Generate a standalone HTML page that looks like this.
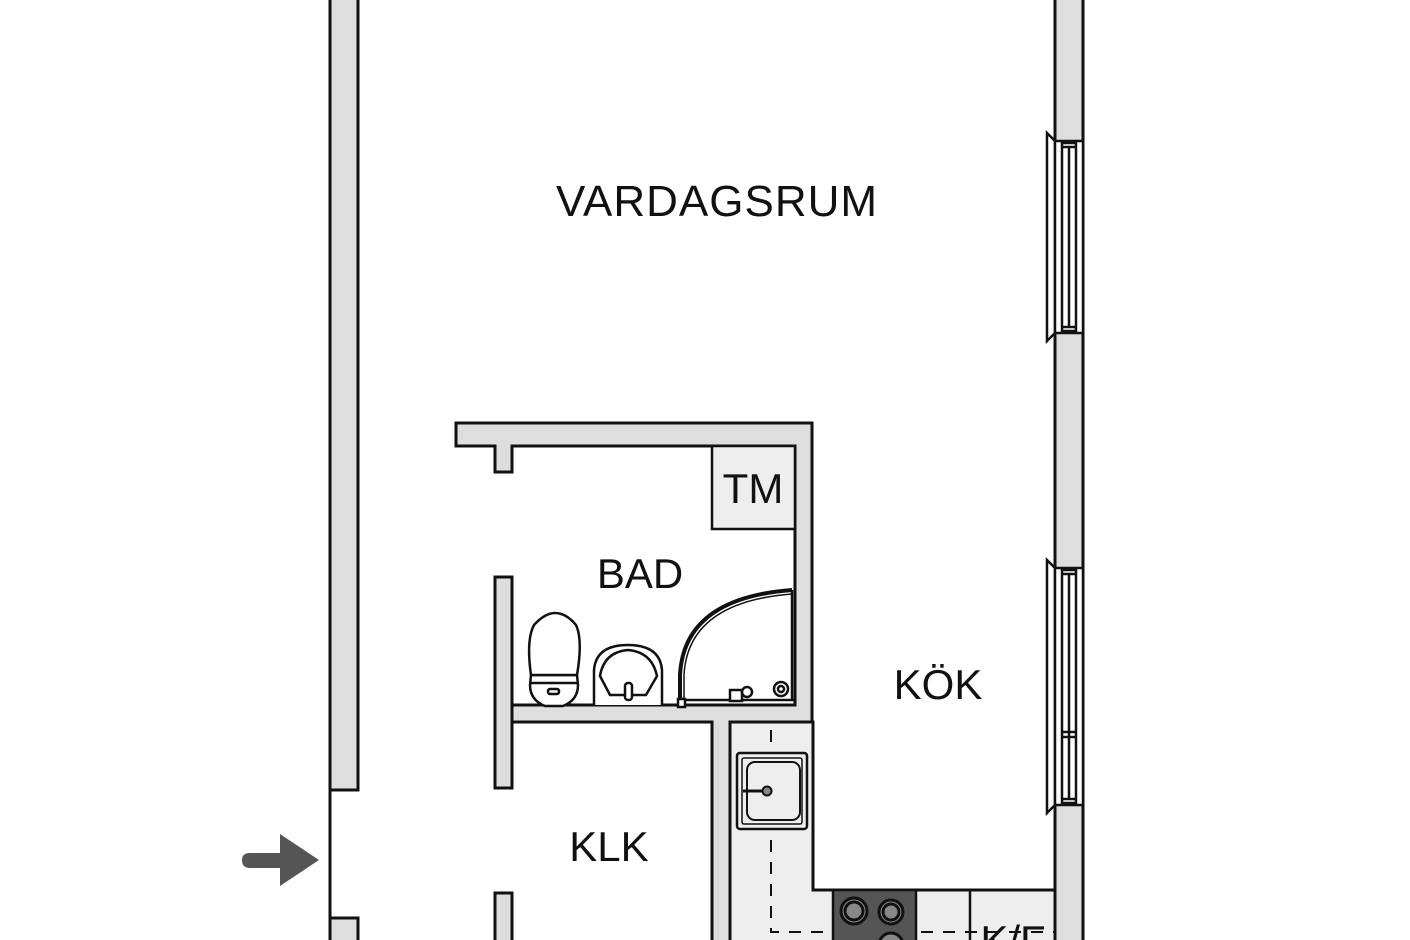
<!DOCTYPE html>
<html><head><meta charset="utf-8"><style>
html,body{margin:0;padding:0;background:#fff;width:1410px;height:940px;overflow:hidden}
svg{display:block}
text{font-family:"Liberation Sans",sans-serif;fill:#111}
</style></head><body>
<svg width="1410" height="940" viewBox="0 0 1410 940" xmlns="http://www.w3.org/2000/svg">
<g stroke="#111" stroke-width="3" fill="#dedede">
<!-- left outer wall -->
<rect x="330" y="-5" width="28" height="795"/>
<rect x="330" y="918" width="28" height="30"/>
<!-- right outer wall -->
<rect x="1055" y="-5" width="28" height="950"/>
</g>
<line x1="330" y1="790" x2="330" y2="940" stroke="#111" stroke-width="3"/>
<!-- windows -->
<g stroke="#111" stroke-width="2.5" fill="#fff">
<path d="M1055 141 L1047 133 L1047 341 L1055 333 Z"/>
<rect x="1055" y="141" width="28" height="192"/>
<rect x="1062" y="143" width="14" height="188" fill="#fff"/>
<line x1="1069" y1="147" x2="1069" y2="327"/>
<line x1="1062" y1="147" x2="1076" y2="147"/>
<line x1="1062" y1="327" x2="1076" y2="327"/>
<path d="M1055 568 L1047 560 L1047 813 L1055 805 Z"/>
<rect x="1055" y="568" width="28" height="237"/>
<rect x="1062" y="570" width="14" height="233" fill="#fff"/>
<line x1="1069" y1="574" x2="1069" y2="799"/>
<line x1="1062" y1="574" x2="1076" y2="574"/>
<line x1="1062" y1="799" x2="1076" y2="799"/>
<line x1="1062" y1="732" x2="1076" y2="732"/>
<line x1="1062" y1="737" x2="1076" y2="737"/>
</g>
<!-- kitchen counter -->
<path d="M730 722 L813 722 L813 890 L1055 890 L1055 945 L730 945 Z" fill="#eeeeee" stroke="#111" stroke-width="3"/>
<line x1="970" y1="890" x2="970" y2="940" stroke="#111" stroke-width="2.5"/>
<path d="M771 730 L771 932 L1055 932" fill="none" stroke="#111" stroke-width="2" stroke-dasharray="12,10"/>
<rect x="833" y="890" width="83" height="55" fill="#555" stroke="#111" stroke-width="2.5"/>
<g stroke="#111" stroke-width="3" fill="#888">
<circle cx="854" cy="911" r="13"/><circle cx="854" cy="911" r="9" fill="#888"/>
<circle cx="891" cy="912" r="12"/><circle cx="891" cy="912" r="8"/>
<circle cx="891" cy="945" r="12"/>
</g>
<!-- kitchen sink -->
<rect x="737" y="753" width="70" height="76" rx="3" fill="#eee" stroke="#111" stroke-width="2.5"/>
<rect x="742" y="758" width="60" height="66" rx="2" fill="#eee" stroke="#111" stroke-width="1.5"/>
<rect x="747" y="762" width="53" height="58" rx="8" fill="#eee" stroke="#111" stroke-width="2"/>
<line x1="743" y1="791" x2="766" y2="791" stroke="#111" stroke-width="3"/>
<circle cx="767" cy="791" r="4.5" fill="#888" stroke="#111" stroke-width="2"/>
<!-- interior walls -->
<g stroke="#111" stroke-width="3" fill="#dedede">
<path d="M456 423 L812 423 L812 722 L730 722 L730 945 L712 945 L712 722 L512 722 L512 705 L795 705 L795 446 L512 446 L512 472 L495 472 L495 446 L456 446 Z"/>
<rect x="495" y="577" width="17" height="211"/>
<rect x="495" y="893" width="17" height="50"/>
</g>
<rect x="712" y="446" width="83" height="83" fill="#eeeeee" stroke="#111" stroke-width="2.5"/>
<!-- toilet -->
<g stroke="#111" stroke-width="2.5" fill="#fff">
<path d="M545 706 Q530 700 530 685 L531 675 L577 675 L578 685 Q578 700 563 706 Z"/>
<path d="M531 675 Q526 640 534 625 Q545 613 555 613 Q566 613 576 625 Q583 640 577 675 Z"/>
<line x1="531" y1="683" x2="577" y2="683"/>
<rect x="548" y="689" width="11" height="5" rx="2"/>
<!-- washbasin -->
<path d="M594 705 L594 670 Q596 645 628 645 Q660 645 662 670 L662 705"/>
<path d="M600 676 Q604 652 628 650 Q652 652 657 676 L646 695 L610 695 Z"/>
<rect x="625" y="683" width="7" height="17" rx="3"/>
<!-- shower -->
<path d="M680 705 L680 675 Q684 598 792 590" fill="none" stroke-width="4"/>
<path d="M684 705 L684 675 Q688 602 792 594" fill="none" stroke-width="1.5"/>
<line x1="792" y1="590" x2="792" y2="700"/>
<line x1="682" y1="700" x2="795" y2="700"/>
<circle cx="781" cy="689" r="7"/><circle cx="781" cy="689" r="3"/>
<rect x="730" y="690" width="12" height="11"/>
<circle cx="747" cy="692" r="5"/>
<rect x="678" y="699" width="7" height="8"/>
</g>
<!-- entrance arrow -->
<path d="M250 853 L280 853 L280 834 L319 860 L280 886 L280 868 L250 868 Q242 868 242 860 Q242 853 250 853 Z" fill="#555"/>
<!-- labels -->
<text x="717" y="216" font-size="44" text-anchor="middle" letter-spacing="1">VARDAGSRUM</text>
<text x="753" y="503" font-size="42" text-anchor="middle">TM</text>
<text x="640" y="588" font-size="42" text-anchor="middle">BAD</text>
<text x="938" y="699" font-size="42" text-anchor="middle">KÖK</text>
<text x="609" y="861" font-size="42" text-anchor="middle">KLK</text>
<text x="1013" y="955" font-size="42" text-anchor="middle">K/F</text>
</svg>
</body></html>
